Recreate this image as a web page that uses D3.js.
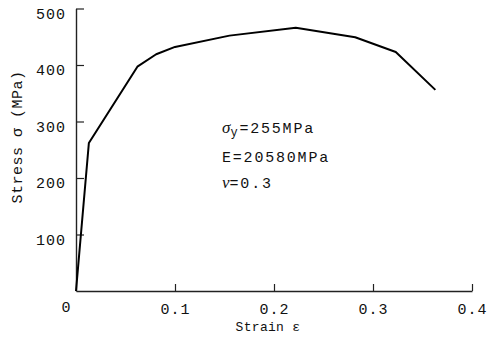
<!DOCTYPE html>
<html>
<head>
<meta charset="utf-8">
<script src="https://cdn.jsdelivr.net/npm/d3@7"></script>
<style>
  body { margin: 0; background: #fff; }
  svg { display: block; }
  text { font-family: "Liberation Mono", "Courier New", monospace; fill: #111; }
</style>
</head>
<body>
<svg id="chart" width="489" height="343"></svg>
<script>
// stress-strain curve
const strain = [0, 0.013, 0.062, 0.081, 0.1, 0.155, 0.222, 0.282, 0.323, 0.363];
const stress = [0, 262, 397, 419, 432, 452, 466, 449, 423, 356];

const xTicks = [0.1, 0.2, 0.3, 0.4];
const yTicks = [100, 200, 300, 400, 500];
const notes = ['=255MPa', 'E=20580MPa', 'ν=0.3'];

const width = 489;
const height = 343;
const fontSize = 15;

const svg = d3.select('#chart');

const x = d3.scaleLinear().domain([0, 0.4]).range([76, 472]);
const y = d3.scaleLinear().domain([0, 500]).range([291, 8.5]);

// y axis, ticks pointing inwards
const yAxis = svg.append('g')
  .attr('transform', `translate(${x(0)},0)`)
  .call(d3.axisLeft(y).tickValues(yTicks).tickSize(-8).tickSizeOuter(0).tickPadding(9).tickFormat(d3.format('d')));

// x axis
const xAxis = svg.append('g')
  .attr('transform', `translate(0,${y(0)})`)
  .call(d3.axisBottom(x).tickValues(xTicks).tickSize(-7).tickSizeOuter(0).tickPadding(12).tickFormat(d3.format('.1f')));

[xAxis, yAxis].forEach(g => {
  g.select('.domain').attr('stroke', '#222').attr('stroke-width', 1.4);
  g.selectAll('.tick line').attr('stroke', '#222').attr('stroke-width', 1.2);
  g.selectAll('.tick text')
    .attr('font-family', '"Liberation Mono", "Courier New", monospace')
    .attr('font-size', fontSize)
    .attr('letter-spacing', 1)
    .attr('fill', '#111');
});
yAxis.selectAll('.tick text').attr('dy', '0.78em').attr('y', -2).attr('x', -10);

// shared zero at the origin
svg.append('text')
  .attr('x', x(0) - 10)
  .attr('y', y(0) + 21)
  .attr('text-anchor', 'middle')
  .attr('font-size', fontSize)
  .text('0');

// curve
const line = d3.line()
  .x(i => x(strain[i]))
  .y(i => y(stress[i]));

svg.append('path')
  .attr('d', line(d3.range(strain.length)))
  .attr('fill', 'none')
  .attr('stroke', '#000')
  .attr('stroke-width', 2)
  .attr('stroke-linejoin', 'round');

// axis titles
svg.append('text')
  .attr('x', 268)
  .attr('y', 331)
  .attr('text-anchor', 'middle')
  .attr('font-size', 13)
  .attr('letter-spacing', 0.3)
  .text('Strain ε');

svg.append('text')
  .attr('transform', 'translate(22,137) rotate(-90)')
  .attr('text-anchor', 'middle')
  .attr('font-size', fontSize)
  .attr('letter-spacing', 0.5)
  .text('Stress σ (MPa)');

// material data
const note = svg.append('g').attr('font-size', fontSize).attr('letter-spacing', 1.8);
const t0 = note.append('text').attr('x', 222).attr('y', 133);
t0.append('tspan').attr('font-family', '"Liberation Serif", serif').attr('font-style', 'italic').attr('font-size', 17).attr('letter-spacing', 0).text('σ');
t0.append('tspan').attr('font-size', 12).attr('dy', 3).text('y');
t0.append('tspan').attr('dy', -3).text(notes[0]);

note.append('text').attr('x', 222).attr('y', 162)
  .text(notes[1]);

const t2 = note.append('text').attr('x', 222).attr('y', 188);
t2.append('tspan').attr('font-family', '"Liberation Serif", serif').attr('font-style', 'italic').attr('font-size', 17).attr('letter-spacing', 0).text('ν');
t2.append('tspan').text(notes[2].slice(1));
</script>
</body>
</html>
